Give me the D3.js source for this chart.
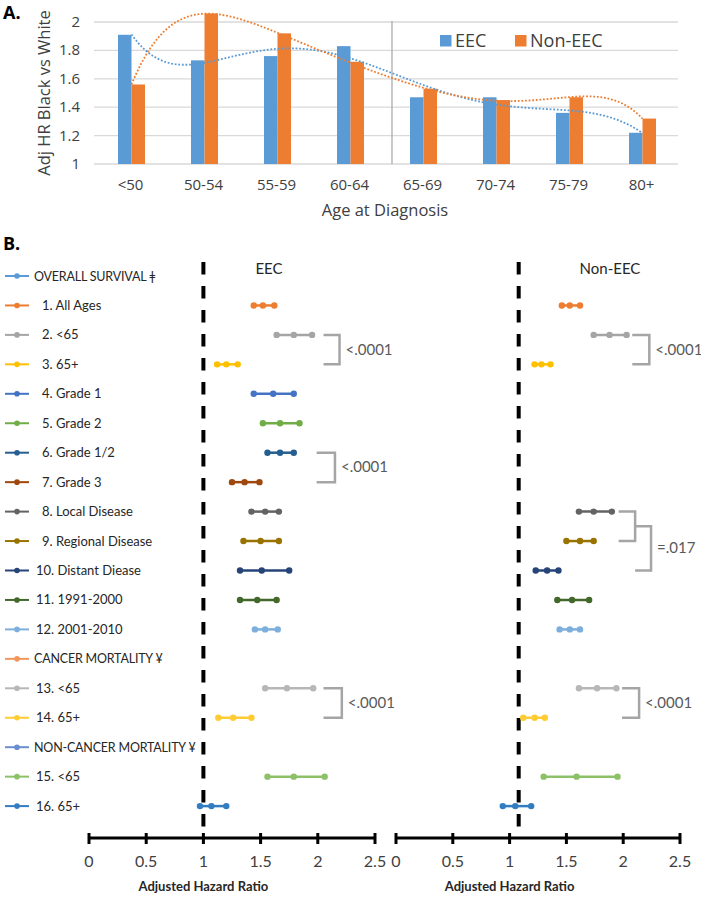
<!DOCTYPE html>
<meta charset="utf-8">
<script src="https://cdn.jsdelivr.net/npm/d3@7"></script>
<style>
body { margin: 0; background: #fff; }
text { font-family: "Open Sans", sans-serif; }
.pb text { font-family: Lato, "Open Sans", sans-serif; }
</style>
<body>
<script>
// ---- panel A data
var ageGroups = ["<50", "50-54", "55-59", "60-64", "65-69", "70-74", "75-79", "80+"];
var hrEEC    = [1.91, 1.73, 1.76, 1.83, 1.47, 1.47, 1.36, 1.22];
var hrNonEEC = [1.56, 2.06, 1.92, 1.72, 1.53, 1.45, 1.47, 1.32];
var yTicksA = [1, 1.2, 1.4, 1.6, 1.8, 2];

// ---- panel B data (one entry per row, null = header row)
var rowLabels = ["OVERALL SURVIVAL \u01C2", "1. All Ages", "2. <65", "3. 65+", "4. Grade 1", "5. Grade 2",
  "6. Grade 1/2", "7. Grade 3", "8. Local Disease", "9. Regional Disease", "10. Distant Diease",
  "11. 1991-2000", "12. 2001-2010", "CANCER MORTALITY \u00A5", "13. <65", "14. 65+",
  "NON-CANCER MORTALITY \u00A5", "15. <65", "16. 65+"];
var rowColors = ["#5b9bd5", "#ed7d31", "#a5a5a5", "#ffc000", "#4472c4", "#70ad47", "#255e91", "#9e480e",
  "#636363", "#997300", "#264478", "#43682b", "#7cafdd", "#f1975a", "#b7b7b7", "#ffcd33",
  "#698ed0", "#8cc168", "#327dc2"];
var eecLow  = [null, 1.44, 1.64, 1.12, 1.44, 1.52, 1.56, 1.25, 1.42, 1.35, 1.32, 1.32, 1.45, null, 1.54, 1.13, null, 1.56, 0.97];
var eecEst  = [null, 1.52, 1.79, 1.20, 1.61, 1.67, 1.67, 1.36, 1.54, 1.50, 1.51, 1.47, 1.54, null, 1.73, 1.26, null, 1.79, 1.07];
var eecHigh = [null, 1.62, 1.95, 1.30, 1.79, 1.84, 1.79, 1.49, 1.66, 1.66, 1.75, 1.64, 1.65, null, 1.96, 1.42, null, 2.06, 1.20];
var nonLow  = [null, 1.46, 1.74, 1.22, null, null, null, null, 1.61, 1.50, 1.23, 1.42, 1.44, null, 1.61, 1.12, null, 1.30, 0.94];
var nonEst  = [null, 1.53, 1.88, 1.28, null, null, null, null, 1.74, 1.62, 1.33, 1.55, 1.53, null, 1.77, 1.22, null, 1.59, 1.05];
var nonHigh = [null, 1.62, 2.03, 1.36, null, null, null, null, 1.90, 1.74, 1.43, 1.70, 1.62, null, 1.94, 1.31, null, 1.95, 1.19];
var hrTicks = [0, 0.5, 1, 1.5, 2, 2.5];
var refLines = [1, 1.08];   // the Non-EEC reference line sits a bit right of 1 in the source
// p-value brackets: rows joined, horizontal extent in HR units
var brackets = [
  {panel: 0, from: 2, to: 3, x0: 2.05, x1: 2.19, label: "<.0001"},
  {panel: 0, from: 6, to: 7, x0: 1.99, x1: 2.15, label: "<.0001"},
  {panel: 0, from: 14, to: 15, x0: 2.05, x1: 2.21, label: "<.0001"},
  {panel: 1, from: 2, to: 3, x0: 2.08, x1: 2.23, label: "<.0001"},
  {panel: 1, from: 8, to: 9, x0: 1.96, x1: 2.105, label: null},
  {panel: 1, from: 8.5, to: 10, x0: 2.105, x1: 2.245, label: "=.017"},
  {panel: 1, from: 14, to: 15, x0: 1.99, x1: 2.14, label: "<.0001"}
];

var width = 701, height = 900;
var svg = d3.select("body").append("svg")
  .attr("width", width)
  .attr("height", height);

// ================= Panel A =================
var gA = svg.append("g");
var xA = d3.scaleBand().domain(ageGroups).range([94, 678]);
var xSub = d3.scaleBand().domain(["EEC", "Non-EEC"]).range([-12.5, 14.5]);
var yA = d3.scaleLinear().domain([1, 2]).range([164, 22]);

gA.append("text").attr("x", 3).attr("y", 19)
  .style("font-size", "18px").style("font-weight", "bold").text("A.");

gA.selectAll(".grid").data(yTicksA).enter().append("line")
  .attr("x1", 94).attr("x2", 678)
  .attr("y1", d => yA(d)).attr("y2", d => yA(d))
  .attr("stroke", "#d9d9d9").attr("stroke-width", 1.3);

gA.selectAll(".ylab").data(yTicksA).enter().append("text")
  .attr("x", 80).attr("y", d => yA(d) + 5)
  .attr("text-anchor", "end")
  .style("font-size", "15px").style("fill", "#404040")
  .text(d => d3.format("~g")(d));

// divider between <65 and 65+
var xDiv = xA("65-69") + 6;
gA.append("line").attr("x1", xDiv).attr("x2", xDiv).attr("y1", 21).attr("y2", 164)
  .attr("stroke", "#a6a6a6").attr("stroke-width", 1.2);

var series = [{name: "EEC", vals: hrEEC, color: "#5b9bd5"},
              {name: "Non-EEC", vals: hrNonEEC, color: "#ed7d31"}];

series.forEach(function(s) {
  gA.selectAll(".bar-" + s.name).data(s.vals).enter().append("rect")
    .attr("x", (d, i) => xA(ageGroups[i]) + xA.bandwidth() / 2 + xSub(s.name))
    .attr("width", xSub.bandwidth())
    .attr("y", d => yA(d))
    .attr("height", d => yA(1) - yA(d))
    .attr("fill", s.color);
});

// polynomial trend (order 6, like the spreadsheet trendline)
function polyfit(ys, order) {
  var n = ys.length, m = order + 1;
  var ts = ys.map((d, i) => (i + 1 - (n + 1) / 2) / ((n - 1) / 2));
  var A = [];
  for (var r = 0; r < m; r++) {
    A.push([]);
    for (var c = 0; c <= m; c++) {
      var s = 0;
      for (var k = 0; k < n; k++) s += Math.pow(ts[k], r) * (c < m ? Math.pow(ts[k], c) : ys[k]);
      A[r].push(s);
    }
  }
  for (var p = 0; p < m; p++) {
    var best = p;
    for (var q = p + 1; q < m; q++) if (Math.abs(A[q][p]) > Math.abs(A[best][p])) best = q;
    var tmp = A[p]; A[p] = A[best]; A[best] = tmp;
    for (var q = p + 1; q < m; q++) {
      var f = A[q][p] / A[p][p];
      for (var c = p; c <= m; c++) A[q][c] -= f * A[p][c];
    }
  }
  var coef = new Array(m);
  for (var p = m - 1; p >= 0; p--) {
    var s = A[p][m];
    for (var c = p + 1; c < m; c++) s -= A[p][c] * coef[c];
    coef[p] = s / A[p][p];
  }
  return function(x) {
    var t = (x - (n + 1) / 2) / ((n - 1) / 2), v = 0;
    for (var p = 0; p < m; p++) v += coef[p] * Math.pow(t, p);
    return v;
  };
}

var bw = xA.bandwidth();
series.forEach(function(s) {
  var f = polyfit(s.vals, 6);
  var pts = d3.range(1, 8.001, 0.05);
  gA.append("path")
    .datum(pts)
    .attr("d", d3.line()
      .x(x => xA(ageGroups[0]) + bw / 2 + 1 + (x - 1) * bw)
      .y(x => yA(f(x)))
      .curve(d3.curveLinear))
    .attr("fill", "none")
    .attr("stroke", s.color)
    .attr("stroke-width", 1.8)
    .attr("stroke-dasharray", "1.8,1.8");
});

gA.selectAll(".xlab").data(ageGroups).enter().append("text")
  .attr("x", d => xA(d) + bw / 2)
  .attr("y", 190)
  .attr("text-anchor", "middle")
  .style("font-size", "15px").style("fill", "#404040")
  .text(d => d);

gA.append("text").attr("x", 385).attr("y", 216).attr("text-anchor", "middle")
  .style("font-size", "16.5px").style("fill", "#404040").text("Age at Diagnosis");

gA.append("text")
  .attr("transform", "translate(50,93) rotate(-90)")
  .attr("text-anchor", "middle")
  .style("font-size", "16.5px").style("fill", "#404040")
  .text("Adj HR Black vs White");

// legend
var legA = gA.selectAll(".legA").data(series).enter().append("g")
  .attr("transform", (d, i) => "translate(" + (i === 0 ? 440 : 515) + ",35)");
legA.append("rect").attr("width", 11.5).attr("height", 11.5).attr("fill", d => d.color);
legA.append("text").attr("x", 15).attr("y", 12).style("font-size", "18px").style("fill", "#404040")
  .text(d => d.name);

// ================= Panel B =================
var gB = svg.append("g").attr("class", "pb");
var rowY = i => 276 + i * 29.45;
var axisY = 838;

gB.append("text").attr("x", 3).attr("y", 250)
  .style("font-size", "18px").style("font-weight", "bold")
  .style("font-family", "'Open Sans', sans-serif").text("B.");

// legend rows
var leg = gB.selectAll(".leg").data(rowLabels).enter().append("g")
  .attr("transform", (d, i) => "translate(0," + rowY(i) + ")");
leg.append("line").attr("x1", 5).attr("x2", 29)
  .attr("stroke", (d, i) => rowColors[i]).attr("stroke-width", 2);
leg.append("circle").attr("cx", 17).attr("r", 2.8).attr("fill", (d, i) => rowColors[i]);
leg.append("text")
  .attr("x", d => /^[0-9]\./.test(d) ? 42 : (/^[0-9]/.test(d) ? 36 : 34))
  .attr("y", 4.5)
  .style("font-size", d => /^[0-9]/.test(d) ? "13px" : "12.5px")
  .style("letter-spacing", d => /^[0-9]/.test(d) ? null : "-0.2px")
  .style("fill", "#262626")
  .text(d => d);

var panels = [
  {title: "EEC", x: d3.scaleLinear().domain([0, 2.5]).range([89, 375]), low: eecLow, est: eecEst, high: eecHigh},
  {title: "Non-EEC", x: d3.scaleLinear().domain([0, 2.5]).range([396, 680]), low: nonLow, est: nonEst, high: nonHigh}
];

panels.forEach(function(p, pi) {
  var g = gB.append("g");
  var x = p.x;

  // axis
  g.append("line").attr("x1", x(0)).attr("x2", x(2.5)).attr("y1", axisY).attr("y2", axisY)
    .attr("stroke", "#000").attr("stroke-width", 3);
  g.selectAll(".tk").data(hrTicks).enter().append("line")
    .attr("x1", d => x(d)).attr("x2", d => x(d))
    .attr("y1", axisY - 5).attr("y2", axisY + 6)
    .attr("stroke", "#000").attr("stroke-width", 3);
  g.selectAll(".tl").data(hrTicks).enter().append("text")
    .attr("x", d => x(d)).attr("y", axisY + 29)
    .attr("text-anchor", "middle")
    .style("font-size", "16px").style("fill", "#404040")
    .text(d => d3.format("~g")(d));
  g.append("text").attr("x", x(1)).attr("y", axisY + 53).attr("text-anchor", "middle")
    .style("font-size", "13px").style("font-weight", "bold").style("fill", "#262626")
    .text("Adjusted Hazard Ratio");

  // reference line
  g.append("line").attr("x1", x(refLines[pi])).attr("x2", x(refLines[pi]))
    .attr("y1", 262).attr("y2", axisY)
    .attr("stroke", "#000").attr("stroke-width", 4)
    .attr("stroke-dasharray", "12.5,11.5");

  g.append("text").attr("x", pi === 0 ? 269 : 610).attr("y", 274)
    .attr("text-anchor", "middle").style("font-size", "15px").style("fill", "#262626")
    .text(p.title);

  // estimates
  var rows = d3.range(rowLabels.length).filter(i => p.est[i] != null);
  var r = g.selectAll(".row").data(rows).enter().append("g")
    .attr("transform", i => "translate(0," + rowY(i) + ")");
  r.append("line").attr("x1", i => x(p.low[i])).attr("x2", i => x(p.high[i]))
    .attr("stroke", i => rowColors[i]).attr("stroke-width", 2.5);
  r.selectAll("circle").data(i => [p.low[i], p.est[i], p.high[i]].map(v => ({v: v, i: i})))
    .enter().append("circle")
    .attr("cx", d => x(d.v)).attr("r", 3.2).attr("fill", d => rowColors[d.i]);

  // brackets
  brackets.filter(b => b.panel === pi).forEach(function(b) {
    var y0 = rowY(b.from), y1 = rowY(b.to);
    g.append("path")
      .attr("d", "M" + x(b.x0) + "," + y0 + "H" + x(b.x1) + "V" + y1 + "H" + x(b.x0))
      .attr("fill", "none").attr("stroke", "#a5a5a5").attr("stroke-width", 2.5);
    if (b.label) {
      g.append("text").attr("x", x(b.x1) + 6).attr("y", (y0 + y1) / 2 + 5)
        .style("font-size", "15px").style("fill", "#595959").text(b.label);
    }
  });
});
</script>
</body>
</html>
